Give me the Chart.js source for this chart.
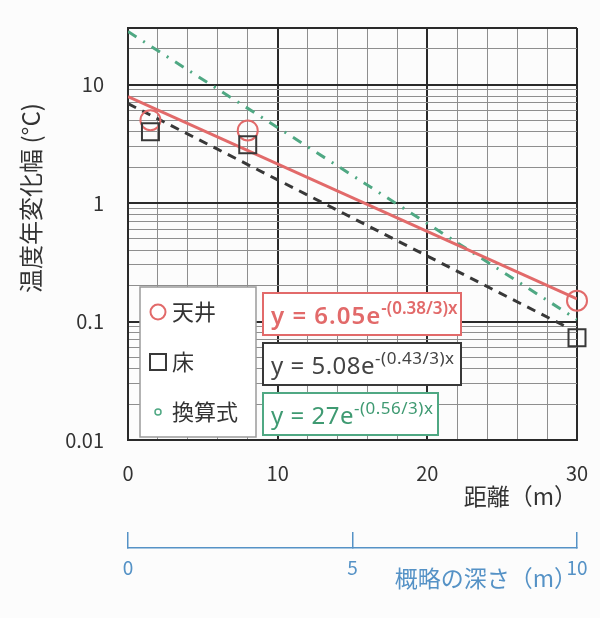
<!DOCTYPE html>
<html>
<head>
<meta charset="utf-8">
<script src="https://cdn.jsdelivr.net/npm/chart.js@4.4.0/dist/chart.umd.min.js"></script>
<style>
  html, body { margin: 0; padding: 0; background: #fcfcfc; }
  #wrap { width: 600px; height: 618px; }
</style>
</head>
<body>
<div id="wrap"><canvas id="myChart"></canvas></div>
<script>
// measured points
const ceilingX = [1.5, 8, 30];
const ceilingY = [5.0, 4.1, 0.15];
const floorX = [1.5, 8, 30];
const floorY = [4.0, 3.1, 0.073];

// fitted lines (as drawn in the figure)
const ceilingFitX = [0, 30];
const ceilingFitY = [7.9, 0.155];
const floorFitX = [0, 29.3];
const floorFitY = [6.9, 0.09];
const convFitX = [0, 30];
const convFitY = [28, 0.104];

const legendLabels = ['天井', '床', '換算式'];
const eqMain = ['y = 6.05e', 'y = 5.08e', 'y = 27e'];
const eqSup = ['-(0.38/3)x', '-(0.43/3)x', '-(0.56/3)x'];

const yTickValues = [0.01, 0.1, 1, 10];
const yTickLabels = ['0.01', '0.1', '1', '10'];
const xTickLabels = [0, 10, 20, 30];
const depthTickLabels = [0, 5, 10];

const RED = '#e26a6a';
const BLACK = '#383838';
const GREEN = '#4fa883';
const BLUE = '#5592c6';
const DARK = '#2a2a2a';
const GRAY = '#8e8e8e';
const NONE = 'rgba(0,0,0,0)';
const FAMILY = '"Noto Sans CJK JP", "Noto Sans", sans-serif';
const EQ_FAMILY = '"Noto Sans", "Open Sans", sans-serif';

Chart.defaults.font.family = FAMILY;

const toPoints = (xs, ys) => xs.map((x, i) => ({ x: x, y: ys[i] }));
const yLabelAt = v => {
    const i = yTickValues.findIndex(t => Math.abs(t - v) < t * 1e-6);
    return i >= 0 ? yTickLabels[i] : '';
};

const Y_MAX = 30;

const ctx = document.getElementById('myChart');

// legend + equation boxes + y title
const overlay = {
    id: 'overlay',
    afterDraw(chart) {
        const c = chart.ctx;
        const a = chart.chartArea;
        const ds = chart.data.datasets;

        // y axis title
        c.save();
        c.translate(31, 198);
        c.rotate(-Math.PI / 2);
        c.font = '24px ' + FAMILY;
        c.fillStyle = '#333';
        c.textAlign = 'center';
        c.textBaseline = 'middle';
        c.fillText('温度年変化幅 (°C)', 0, 0);
        c.restore();

        // legend box
        const lx = a.left + 12, ly = a.bottom - 153;
        c.save();
        c.fillStyle = '#fff';
        c.fillRect(lx, ly, 116, 150);
        c.strokeStyle = '#9a9a9a';
        c.lineWidth = 1.5;
        c.strokeRect(lx, ly, 116, 150);
        const marks = [
            { style: 'circle', r: 7.5, color: ds[0].borderColor, bw: 2 },
            { style: 'rect', r: 11.3, color: ds[1].borderColor, bw: 2 },
            { style: 'circle', r: 3, color: GREEN, bw: 1.5 }
        ];
        legendLabels.forEach((lab, i) => {
            const y = ly + 25 + i * 50;
            c.strokeStyle = marks[i].color;
            c.fillStyle = NONE;
            c.lineWidth = marks[i].bw;
            Chart.helpers.drawPoint(c, { pointStyle: marks[i].style, radius: marks[i].r, rotation: 0, borderWidth: marks[i].bw }, lx + 18, y);
            c.fillStyle = '#333';
            c.font = '22px ' + FAMILY;
            c.textAlign = 'left';
            c.textBaseline = 'middle';
            c.fillText(lab, lx + 32, y);
        });
        c.restore();

        // equation boxes
        const colors = [RED, BLACK, GREEN];
        const textColors = [RED, '#444', '#3f9a72'];
        const boxW = [198, 198, 175];
        eqMain.forEach((m, i) => {
            const bx = a.left + 135, by = a.bottom - 147 + i * 50, bh = 42;
            const bold = i === 0;
            c.save();
            c.fillStyle = '#fff';
            c.fillRect(bx, by, boxW[i], bh);
            c.strokeStyle = colors[i];
            c.lineWidth = 2;
            c.strokeRect(bx, by, boxW[i], bh);
            c.fillStyle = textColors[i];
            c.textAlign = 'left';
            c.textBaseline = 'alphabetic';
            c.letterSpacing = bold ? '1px' : '0.5px';
            c.font = (bold ? '600 ' : '') + '24px ' + EQ_FAMILY;
            const mw = c.measureText(m).width;
            c.fillText(m, bx + 8, by + 31);
            c.letterSpacing = bold ? '0px' : '0.5px';
            c.font = (bold ? '600 ' : '') + '17px ' + EQ_FAMILY;
            c.fillText(eqSup[i], bx + 8 + mw, by + 21);
            c.restore();
        });
    }
};

new Chart(ctx, {
    type: 'scatter',
    data: {
        datasets: [
            {
                label: legendLabels[0],
                data: toPoints(ceilingX, ceilingY),
                pointStyle: 'circle',
                pointRadius: 10,
                borderColor: RED,
                backgroundColor: NONE,
                pointBorderWidth: 2,
                showLine: false,
                clip: false,
                order: 2
            },
            {
                label: legendLabels[1],
                data: toPoints(floorX, floorY),
                pointStyle: 'rect',
                pointRadius: 12,
                borderColor: BLACK,
                backgroundColor: NONE,
                pointBorderWidth: 2,
                showLine: false,
                clip: false,
                order: 1
            },
            {
                label: 'ceiling fit',
                data: toPoints(ceilingFitX, ceilingFitY),
                showLine: true,
                pointRadius: 0,
                borderColor: RED,
                borderWidth: 3,
                order: 3
            },
            {
                label: 'floor fit',
                data: toPoints(floorFitX, floorFitY),
                showLine: true,
                pointRadius: 0,
                borderColor: BLACK,
                borderWidth: 3,
                borderDash: [9, 7],
                order: 3
            },
            {
                label: legendLabels[2],
                data: toPoints(convFitX, convFitY),
                showLine: true,
                pointRadius: 0,
                borderColor: GREEN,
                borderWidth: 3,
                borderDash: [10, 8, 2, 8],
                order: 3
            }
        ]
    },
    options: {
        responsive: true,
        maintainAspectRatio: false,
        animation: false,
        layout: { padding: { top: 28, right: 23, left: 0, bottom: 0 } },
        plugins: {
            legend: { display: false },
            tooltip: { enabled: false }
        },
        scales: {
            x: {
                type: 'linear',
                position: 'bottom',
                min: 0,
                max: 30,
                afterFit: s => {
                    s.height = 108;
                    s.paddingLeft = 0;
                    s.paddingRight = 0;
                },
                border: { display: true, color: DARK, width: 2 },
                grid: {
                    drawTicks: false,
                    color: c => c.tick.value % 10 === 0 ? DARK : GRAY,
                    lineWidth: c => c.tick.value % 10 === 0 ? 2 : 1
                },
                ticks: {
                    stepSize: 2,
                    autoSkip: false,
                    maxRotation: 0,
                    padding: 21,
                    color: '#333',
                    font: { size: 20 },
                    callback: v => xTickLabels.includes(v) ? String(v) : ''
                },
                title: {
                    display: true,
                    text: '距離（m）',
                    align: 'end',
                    color: '#333',
                    font: { size: 23 },
                    padding: { top: 0, bottom: 38 }
                }
            },
            x2: {
                type: 'linear',
                position: 'bottom',
                weight: 1,
                min: 0,
                max: 10,
                afterFit: s => {
                    s.height = 70;
                    s.paddingLeft = 0;
                    s.paddingRight = 0;
                },
                border: { display: true, color: BLUE, width: 1.5 },
                grid: {
                    drawOnChartArea: false,
                    drawTicks: true,
                    tickLength: -16,
                    color: BLUE,
                    lineWidth: 1.5
                },
                ticks: {
                    stepSize: 5,
                    autoSkip: false,
                    maxRotation: 0,
                    padding: 24,
                    color: BLUE,
                    font: { size: 19 },
                    callback: v => depthTickLabels.includes(v) ? String(v) : ''
                },
                title: {
                    display: true,
                    text: '概略の深さ（m）',
                    align: 'end',
                    color: BLUE,
                    font: { size: 23 },
                    padding: { top: 0, bottom: 26 }
                }
            },
            y: {
                type: 'logarithmic',
                min: 0.01,
                max: Y_MAX,
                afterFit: s => {
                    s.width = 128;
                    s.paddingTop = 0;
                    s.paddingBottom = 0;
                },
                afterBuildTicks: s => {
                    const vals = [];
                    yTickValues.forEach(d => {
                        for (let m = 1; m <= 9; m++) {
                            if (d * m < Y_MAX) vals.push(d * m);
                        }
                    });
                    vals.push(Y_MAX);
                    s.ticks = vals.map(v => ({ value: v }));
                },
                border: { display: true, color: DARK, width: 2 },
                grid: {
                    drawTicks: false,
                    color: c => (yLabelAt(c.tick.value) || c.tick.value >= Y_MAX) ? DARK : GRAY,
                    lineWidth: c => (yLabelAt(c.tick.value) || c.tick.value >= Y_MAX) ? 2 : 1
                },
                ticks: {
                    autoSkip: false,
                    padding: 24,
                    color: '#333',
                    font: { size: 20 },
                    callback: v => yLabelAt(v)
                }
            }
        }
    },
    plugins: [overlay]
});
</script>
</body>
</html>
